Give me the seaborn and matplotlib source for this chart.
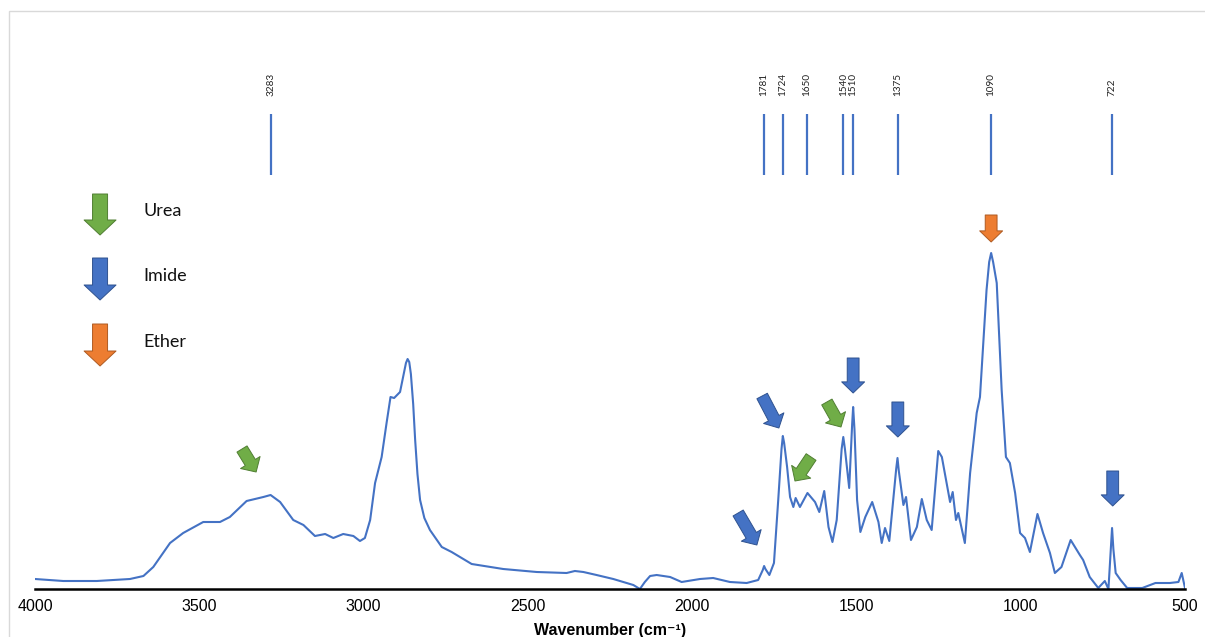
import matplotlib
matplotlib.use("Agg")
import matplotlib.pyplot as plt
from matplotlib.patches import Rectangle
import seaborn as sns
import pandas as pd

# FTIR spectrum (wavenumber in cm-1, absorbance in a.u.)
wavenumber = [
    4000, 3914, 3812, 3711, 3670, 3640, 3589, 3549, 3488, 3437, 3407, 3356,
    3305, 3283, 3254, 3214, 3183, 3148, 3117, 3092, 3062, 3031, 3011, 2996,
    2980, 2965, 2945, 2930, 2918, 2907, 2889, 2877, 2871, 2866, 2861, 2856,
    2849, 2843, 2836, 2828, 2815, 2798, 2762, 2732, 2671, 2575, 2473, 2382,
    2357, 2331, 2291, 2240, 2179, 2159, 2144, 2128, 2108, 2067, 2032, 1976,
    1936, 1885, 1834, 1799, 1785, 1781, 1777, 1765, 1751, 1738, 1728, 1724,
    1720, 1711, 1702, 1692, 1685, 1672, 1649, 1626, 1613, 1598, 1585, 1573,
    1560, 1545, 1540, 1535, 1522, 1513, 1510, 1506, 1498, 1488, 1473, 1452,
    1433, 1423, 1413, 1400, 1379, 1375, 1371, 1357, 1349, 1334, 1316, 1301,
    1286, 1271, 1251, 1240, 1215, 1207, 1197, 1190, 1170, 1154, 1134, 1124,
    1104, 1096, 1090, 1084, 1073, 1058, 1045, 1033, 1017, 1002, 987, 972,
    949, 932, 911, 896, 876, 848, 820, 810, 790, 764, 744, 733,
    725, 722, 718, 711, 696, 676, 630, 590, 546, 520, 510, 500,
]
absorbance = [
    0.010, 0.008, 0.008, 0.010, 0.013, 0.022, 0.046, 0.056, 0.067, 0.067, 0.072, 0.088,
    0.092, 0.094, 0.087, 0.069, 0.064, 0.053, 0.055, 0.051, 0.055, 0.053, 0.048, 0.051,
    0.069, 0.106, 0.132, 0.166, 0.192, 0.191, 0.197, 0.216, 0.226, 0.230, 0.227, 0.215,
    0.185, 0.149, 0.115, 0.089, 0.071, 0.059, 0.042, 0.037, 0.025, 0.020, 0.017, 0.016,
    0.018, 0.017, 0.014, 0.010, 0.004, 0.000, 0.007, 0.013, 0.014, 0.012, 0.007, 0.010,
    0.011, 0.007, 0.006, 0.009, 0.019, 0.023, 0.020, 0.014, 0.026, 0.089, 0.140, 0.153,
    0.146, 0.122, 0.092, 0.082, 0.091, 0.082, 0.096, 0.087, 0.077, 0.098, 0.062, 0.047,
    0.069, 0.140, 0.152, 0.140, 0.101, 0.165, 0.182, 0.160, 0.089, 0.057, 0.072, 0.087,
    0.067, 0.046, 0.061, 0.048, 0.120, 0.131, 0.118, 0.084, 0.092, 0.049, 0.062, 0.090,
    0.069, 0.059, 0.138, 0.132, 0.087, 0.097, 0.069, 0.076, 0.046, 0.116, 0.176, 0.192,
    0.299, 0.327, 0.336, 0.327, 0.306, 0.199, 0.132, 0.126, 0.096, 0.056, 0.051, 0.037,
    0.075, 0.056, 0.036, 0.016, 0.022, 0.049, 0.034, 0.029, 0.012, 0.001, 0.008, 0.000,
    0.045, 0.061, 0.040, 0.016, 0.009, 0.001, 0.001, 0.006, 0.006, 0.007, 0.016, 0.001,
]

# Assigned band positions shown as markers along the top
peak_positions = [3283, 1781, 1724, 1650, 1540, 1510, 1375, 1090, 722]

# Band assignment arrows: (tip wavenumber, tip absorbance, tail wavenumber, tail absorbance, group)
band_arrows = [
    (3327, 0.117, 3370, 0.140, "Urea"),
    (1803, 0.044, 1860, 0.076, "Imide"),
    (1736, 0.161, 1787, 0.193, "Imide"),
    (1687, 0.108, 1638, 0.132, "Urea"),
    (1547, 0.162, 1590, 0.187, "Urea"),
    (1510, 0.196, 1510, 0.231, "Imide"),
    (1374, 0.152, 1374, 0.187, "Imide"),
    (720, 0.083, 720, 0.118, "Imide"),
    (1090, 0.347, 1090, 0.374, "Ether"),
]

groups = ["Urea", "Imide", "Ether"]
group_fill = {"Urea": "#70AD47", "Imide": "#4472C4", "Ether": "#ED7D31"}
group_edge = {"Urea": "#507E32", "Imide": "#2F528F", "Ether": "#AE5A21"}

x_ticks = [4000, 3500, 3000, 2500, 2000, 1500, 1000, 500]
x_label = "Wavenumber (cm\u207b\u00b9)"

sns.set_theme(style="white")
plt.rcParams["font.family"] = ["Liberation Sans Narrow", "Liberation Sans", "DejaVu Sans"]

W, H = 1205, 637
fig = plt.figure(figsize=(W / 100, H / 100), dpi=100)
fig.patch.set_facecolor("white")

# thin frame around the chart area
fig.patches.append(Rectangle((9 / W, -0.1), 1.2, 1 - 11 / H + 0.1,
                             transform=fig.transFigure, fill=False,
                             edgecolor="#D9D9D9", lw=1.0))

ax = fig.add_axes([35 / W, 1 - 589 / H, 1150 / W, (589 - 20) / H])
ax.set_facecolor("none")

spec = pd.DataFrame({"wavenumber": wavenumber, "absorbance": absorbance})
sns.lineplot(data=spec, x="wavenumber", y="absorbance", ax=ax,
             color="#4472C4", lw=1.5, estimator=None, sort=False)

ax.set_xlim(4000, 500)
ax.set_ylim(0, 0.569)

# band markers and labels
ax.vlines(peak_positions, 0.414, 0.475, color="#4472C4", lw=1.6)
for p in peak_positions:
    ax.text(p, 0.493, str(p), rotation=90, ha="center", va="bottom",
            fontsize=7.2, family=["Lato", "DejaVu Sans"], color="#222222")

def block_arrow(tip, tail, group, scale):
    tw, hw, hl = scale
    ax.annotate("", xy=tip, xytext=tail, xycoords="data", textcoords="data",
                arrowprops=dict(
                    arrowstyle=f"simple,head_length={hl},head_width={hw},tail_width={tw}",
                    mutation_scale=10, shrinkA=0, shrinkB=0,
                    fc=group_fill[group], ec=group_edge[group], lw=0.7),
                annotation_clip=False)

for tip_w, tip_a, tail_w, tail_a, grp in band_arrows:
    block_arrow((tip_w, tip_a), (tail_w, tail_a), grp, (0.85, 1.65, 0.8))

# key of arrow groups
key_tails = [0.395, 0.331, 0.265]
key_tips = [0.354, 0.289, 0.223]
for grp, ya, yb in zip(groups, key_tails, key_tips):
    block_arrow((3802, yb), (3802, ya), grp, (1.08, 2.3, 1.08))
    ax.text(3671, (ya + yb) / 2 + 0.003, grp, ha="left", va="center",
            fontsize=13, family=["Lato", "DejaVu Sans"], color="#111111")

ax.set_xticks(x_ticks)
ax.set_xticklabels([str(t) for t in x_ticks])
ax.set_yticks([])
ax.tick_params(axis="x", length=0, pad=7, labelsize=11.5, labelcolor="#000000")
ax.set_xlabel(x_label, fontsize=11.5, fontweight="bold", labelpad=7, color="#000000")
ax.set_ylabel("")

for side in ["left", "right", "top"]:
    ax.spines[side].set_visible(False)
ax.spines["bottom"].set_color("#000000")
ax.spines["bottom"].set_linewidth(1.8)
ax.grid(False)

fig.savefig("out.png", dpi=100)
